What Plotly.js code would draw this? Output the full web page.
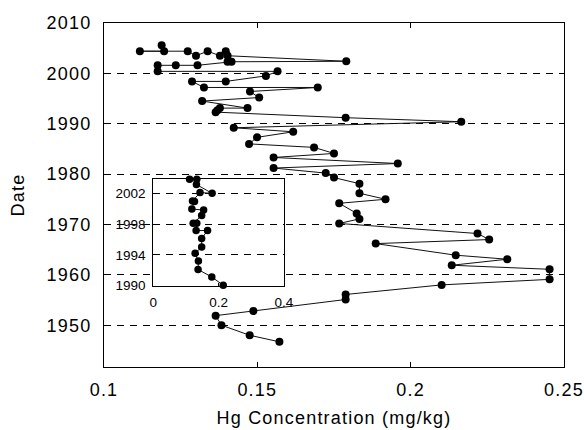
<!DOCTYPE html>
<html>
<head>
<meta charset="utf-8">
<script src="https://cdn.plot.ly/plotly-3.0.1.min.js"></script>
<style>
html,body{margin:0;padding:0;background:#fff;}
#chart{width:584px;height:430px;}
#chart .xtick text, #chart .ytick text, #chart .xtitle, #chart .ytitle {letter-spacing:1.2px;}
</style>
</head>
<body>
<div id="chart"></div>
<script>
// Main series: Hg concentration (mg/kg) vs date
var mainHg = [0.1188,0.1196,0.1117,0.1273,0.1300,0.1338,0.1378,0.1397,0.1403,0.1790,
  0.1403,0.1416,0.1305,0.1234,0.1175,0.1175,0.1566,0.1528,0.1397,0.1287,
  0.1326,0.1697,0.1476,0.1506,0.1320,0.1468,0.1378,0.1370,0.1364,0.1788,
  0.2165,0.1423,0.1617,0.1499,0.1473,0.1685,0.1750,0.1553,0.1958,0.1553,
  0.1723,0.1750,0.1833,0.1833,0.1918,0.1767,0.1824,0.1833,0.1767,0.2218,
  0.2256,0.1886,0.2147,0.2315,0.2134,0.2453,0.2453,0.2101,0.1788,0.1788,
  0.1487,0.1364,0.1383,0.1475,0.1572];
var mainDate = [2005.6,2004.4,2004.4,2004.4,2003.5,2004.4,2003.5,2004.4,2003.5,2002.4,
  2002.3,2002.3,2001.6,2001.6,2001.6,2000.4,2000.4,1999.5,1998.4,1998.4,
  1997.2,1997.2,1996.4,1995.2,1994.5,1993.1,1993.1,1992.7,1992.3,1991.2,
  1990.4,1989.2,1988.4,1987.3,1986.0,1985.3,1984.1,1983.3,1982.1,1981.2,
  1980.2,1979.3,1978.1,1976.2,1975.0,1974.2,1972.2,1971.1,1970.2,1968.2,
  1967.0,1966.2,1963.9,1963.1,1961.9,1961.1,1959.1,1958.0,1956.1,1955.1,
  1952.8,1951.9,1950.0,1948.0,1946.7];

// Inset series (1990-2004)
var insetHg = [0.111,0.124,0.133,0.132,0.180,0.143,0.120,0.126,0.118,0.154,
  0.148,0.122,0.133,0.131,0.166,0.148,0.148,0.128,0.138,0.137,0.179,0.214];
var insetDate = [2003.85,2003.95,2003.85,2003.17,2002.02,2002.12,2001.02,2000.97,1999.97,1999.85,
  1999.13,1998.11,1998.11,1997.17,1997.17,1996.13,1995.02,1994.2,1993.19,1992.09,1991.11,1990.03];

// Tick labels
var mainXTicks = [0.1,0.15,0.2,0.25];
var mainYTicks = [1950,1960,1970,1980,1990,2000,2010];
var insetXTicks = [0,0.2,0.4];
var insetYTicks = [1990,1994,1998,2002];

var FONT = 'Liberation Sans, Arial, sans-serif';
var DASH = '7px,6px';

var traces = [
  {x: mainHg, y: mainDate, type: 'scatter', mode: 'lines+markers', xaxis: 'x', yaxis: 'y',
   line: {color: '#111', width: 1}, marker: {color: '#000', size: 8, line: {width: 0}},
   hoverinfo: 'none', showlegend: false},
  {x: insetHg, y: insetDate, type: 'scatter', mode: 'lines+markers', xaxis: 'x2', yaxis: 'y2',
   line: {color: '#111', width: 1}, marker: {color: '#000', size: 7.5, line: {width: 0}},
   cliponaxis: false, hoverinfo: 'none', showlegend: false}
];

var layout = {
  width: 584, height: 430,
  margin: {l: 104, r: 20, t: 23, b: 63, pad: 0},
  paper_bgcolor: '#fff', plot_bgcolor: '#fff',
  font: {family: FONT, size: 18, color: '#000'},
  showlegend: false,
  xaxis: {
    domain: [0, 1], anchor: 'y', range: [0.1, 0.25], tickvals: mainXTicks,
    showline: true, linecolor: '#000', linewidth: 1, mirror: 'ticks',
    ticks: 'inside', ticklen: 5, tickcolor: '#000', tickwidth: 1,
    showgrid: false, zeroline: false, ticklabelstandoff: 6,
    tickfont: {family: FONT, size: 18, color: '#000'},
    title: {text: 'Hg Concentration (mg/kg)', font: {family: FONT, size: 18, color: '#000'}, standoff: 12}
  },
  yaxis: {
    domain: [0, 1], anchor: 'x', range: [1941.7, 2010], tickvals: mainYTicks,
    showline: true, linecolor: '#000', linewidth: 1, mirror: 'ticks',
    ticks: 'inside', ticklen: 5, tickcolor: '#000', tickwidth: 1,
    showgrid: true, gridcolor: '#000', gridwidth: 1, griddash: DASH,
    zeroline: false, ticklabelstandoff: 8,
    tickfont: {family: FONT, size: 18, color: '#000'},
    title: {text: 'Date', font: {family: FONT, size: 18, color: '#000'}, standoff: 22}
  },
  xaxis2: {
    domain: [0.1072, 0.3913], anchor: 'y2', range: [0, 0.4], tickvals: insetXTicks,
    showline: true, linecolor: '#000', linewidth: 1, mirror: true,
    ticks: 'inside', ticklen: 3, tickcolor: '#000',
    showgrid: false, zeroline: false, ticklabelstandoff: 4,
    tickfont: {family: FONT, size: 13.5, color: '#000'}
  },
  yaxis2: {
    domain: [0.2369, 0.5456], anchor: 'x2', range: [1990, 2003.85], tickvals: insetYTicks,
    showline: true, linecolor: '#000', linewidth: 1, mirror: true,
    ticks: 'inside', ticklen: 3, tickcolor: '#000',
    showgrid: true, gridcolor: '#000', gridwidth: 1, griddash: DASH,
    zeroline: false, ticklabelstandoff: 4,
    tickfont: {family: FONT, size: 13.5, color: '#000'}
  }
};

Plotly.newPlot('chart', traces, layout, {staticPlot: true, displayModeBar: false});
</script>
</body>
</html>
